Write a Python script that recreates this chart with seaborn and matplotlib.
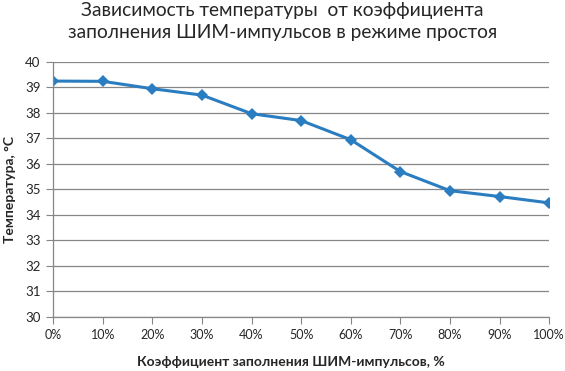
import matplotlib

matplotlib.use("Agg")
import matplotlib.pyplot as plt
import pandas as pd
import seaborn as sns
from matplotlib.ticker import FixedLocator

# data
duty = [0, 10, 20, 30, 40, 50, 60, 70, 80, 90, 100]
temperature = [39.25, 39.24, 38.95, 38.7, 37.97, 37.7, 36.95, 35.7, 34.95, 34.72, 34.47]
tick_labels = [f"{d}%" for d in duty]

title = "Зависимость температуры  от коэффициента\nзаполнения ШИМ-импульсов в режиме простоя"
xlabel = "Коэффициент заполнения ШИМ-импульсов, %"
ylabel = "Температура, °С"

df = pd.DataFrame({"duty": duty, "temp": temperature})

sns.set_theme(style="white")
plt.rcParams["font.family"] = ["Lato", "DejaVu Sans"]

fig = plt.figure(figsize=(5.65, 3.71), dpi=100)
ax = fig.add_axes([0.094, 0.146, 0.878, 0.687])

sns.lineplot(data=df, x="duty", y="temp", ax=ax, color="#2A7DC0",
             linewidth=2.2, marker="D", markersize=6, markeredgewidth=0)

ax.set_xlim(0, 100)
ax.set_ylim(30, 40)
ax.xaxis.set_major_locator(FixedLocator(duty))
ax.set_xticklabels(tick_labels, fontsize=9)
ax.set_yticks(range(30, 41))
ax.tick_params(axis="y", labelsize=9.5, length=5, width=0.8, color="#868686", pad=4, left=True)
ax.tick_params(axis="x", length=5, width=0.8, color="#868686", pad=4, bottom=True)
ax.grid(axis="y", color="#868686", linewidth=0.9)
for s in ["top", "right"]:
    ax.spines[s].set_visible(False)
for s in ["left", "bottom"]:
    ax.spines[s].set_color("#868686")
    ax.spines[s].set_linewidth(0.9)

ax.set_xlabel("")
ax.set_ylabel("")
fig.text(0.515, 0.025, xlabel, ha="center", va="center", fontsize=10, fontweight="bold")
fig.text(0.018, 0.49, ylabel, ha="center", va="center", rotation=90,
         fontsize=10, fontweight="bold")
fig.text(0.5, 0.995, title, ha="center", va="top", fontsize=13.8, linespacing=1.4)

fig.savefig("out.png", dpi=100)
